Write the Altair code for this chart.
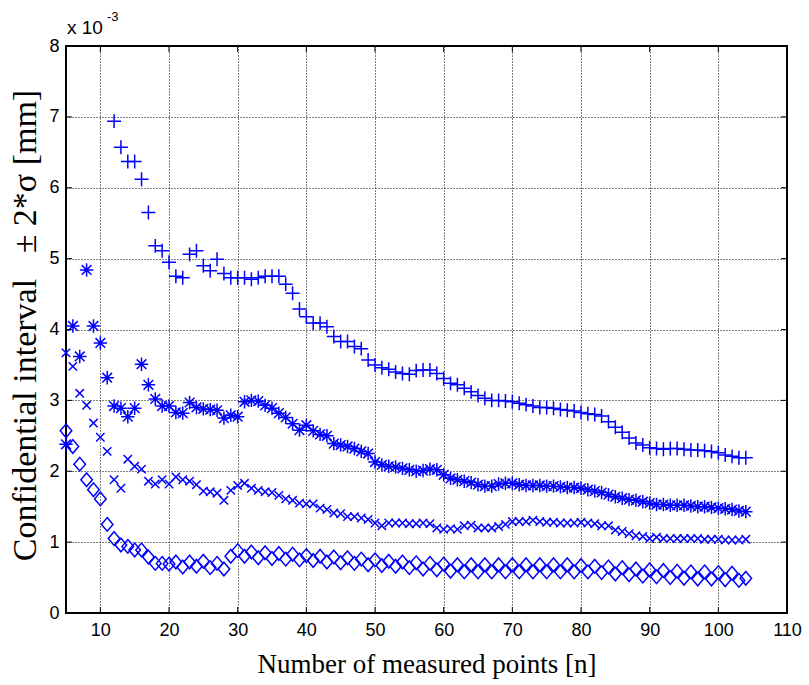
import altair as alt
import pandas as pd

# ---- data (values in units of 1e-3 mm) ----
n_plus = list(range(12, 105))
plus_vals = [6.94, 6.57, 6.37, 6.37, 6.12, 5.65, 5.18, 5.11, 4.95, 4.75,
             4.73, 5.06, 5.11, 4.90, 4.83, 4.99, 4.79, 4.73, 4.73, 4.73,
             4.71, 4.73, 4.75, 4.75, 4.75, 4.64, 4.51, 4.29, 4.18, 4.09,
             4.09, 4.04, 3.90, 3.83, 3.83, 3.76, 3.73, 3.57, 3.50, 3.46,
             3.44, 3.40, 3.38, 3.37, 3.42, 3.43, 3.43, 3.38, 3.31, 3.24,
             3.22, 3.17, 3.12, 3.07, 3.03, 3.00, 3.00, 2.99, 2.98, 2.96,
             2.94, 2.92, 2.90, 2.90, 2.89, 2.87, 2.86, 2.85, 2.83, 2.81,
             2.80, 2.78, 2.70, 2.62, 2.55, 2.47, 2.40, 2.37, 2.33, 2.32,
             2.31, 2.32, 2.32, 2.31, 2.30, 2.30, 2.29, 2.28, 2.26, 2.23,
             2.21, 2.19, 2.19]

n_all = list(range(5, 105))
star_vals = [2.38, 4.05, 3.62, 4.84, 4.05, 3.81, 3.32, 2.92, 2.89, 2.77,
             2.89, 3.51, 3.22, 3.02, 2.92, 2.92, 2.83, 2.82, 2.97, 2.90,
             2.88, 2.87, 2.86, 2.75, 2.79, 2.77, 2.98, 3.00, 2.99, 2.93,
             2.89, 2.82, 2.76, 2.67, 2.58, 2.65, 2.57, 2.52, 2.50, 2.39,
             2.37, 2.35, 2.32, 2.28, 2.25, 2.13, 2.09, 2.07, 2.06, 2.04,
             2.02, 2.00, 2.01, 2.03, 2.02, 1.95, 1.90, 1.88, 1.86, 1.84,
             1.81, 1.79, 1.79, 1.82, 1.83, 1.83, 1.81, 1.80, 1.80, 1.80,
             1.79, 1.79, 1.78, 1.77, 1.77, 1.76, 1.74, 1.72, 1.70, 1.67,
             1.64, 1.62, 1.60, 1.59, 1.57, 1.55, 1.53, 1.53, 1.52, 1.52,
             1.52, 1.51, 1.50, 1.50, 1.49, 1.48, 1.47, 1.46, 1.44, 1.43]

cross_vals = [3.67, 3.48, 3.10, 2.93, 2.68, 2.48, 2.28, 1.88, 1.76, 2.17,
              2.07, 2.03, 1.86, 1.82, 1.88, 1.82, 1.92, 1.88, 1.86, 1.81,
              1.72, 1.71, 1.69, 1.59, 1.73, 1.80, 1.83, 1.76, 1.73, 1.71,
              1.70, 1.66, 1.61, 1.59, 1.55, 1.54, 1.54, 1.48, 1.46, 1.41,
              1.40, 1.36, 1.36, 1.34, 1.32, 1.27, 1.23, 1.27, 1.27, 1.27,
              1.26, 1.26, 1.27, 1.26, 1.20, 1.18, 1.19, 1.18, 1.23, 1.24,
              1.20, 1.20, 1.20, 1.22, 1.25, 1.29, 1.29, 1.29, 1.31, 1.29,
              1.28, 1.28, 1.27, 1.27, 1.27, 1.28, 1.27, 1.26, 1.23, 1.23,
              1.17, 1.15, 1.12, 1.09, 1.08, 1.05, 1.07, 1.05, 1.05, 1.05,
              1.05, 1.05, 1.05, 1.04, 1.04, 1.04, 1.03, 1.03, 1.03, 1.04]

diamond_vals = [2.57, 2.35, 2.10, 1.88, 1.74, 1.61, 1.25, 1.05, 0.96, 0.94,
                0.89, 0.89, 0.79, 0.70, 0.70, 0.69, 0.72, 0.65, 0.72, 0.66,
                0.73, 0.64, 0.70, 0.62, 0.80, 0.88, 0.80, 0.86, 0.78, 0.85,
                0.77, 0.84, 0.76, 0.83, 0.75, 0.81, 0.74, 0.80, 0.72, 0.79,
                0.71, 0.78, 0.70, 0.76, 0.68, 0.75, 0.67, 0.73, 0.66, 0.72,
                0.64, 0.71, 0.62, 0.70, 0.61, 0.69, 0.59, 0.68, 0.58, 0.68,
                0.58, 0.68, 0.58, 0.68, 0.58, 0.68, 0.58, 0.68, 0.58, 0.68,
                0.58, 0.68, 0.58, 0.68, 0.58, 0.67, 0.58, 0.66, 0.57, 0.65,
                0.55, 0.64, 0.54, 0.62, 0.52, 0.61, 0.51, 0.60, 0.50, 0.59,
                0.49, 0.58, 0.48, 0.58, 0.48, 0.57, 0.47, 0.56, 0.46, 0.49]

x_ticks = [10, 20, 30, 40, 50, 60, 70, 80, 90, 100, 110]
y_ticks = [0, 1, 2, 3, 4, 5, 6, 7, 8]

# ---- chart ----
W, H = 721, 567
BLUE = "#0000ff"
PLUS = "M-1,0L1,0M0,-1L0,1"
STAR = "M-1,0L1,0M0,-1L0,1M-0.72,-0.72L0.72,0.72M-0.72,0.72L0.72,-0.72"
CROSS = "M-1,-1L1,1M-1,1L1,-1"
DIAMOND = "M0,-1L0.85,0L0,1L-0.85,0Z"

xs = alt.Scale(domain=[5, 110], nice=False, zero=False)
ys = alt.Scale(domain=[0, 8], nice=False, zero=False)

x_axis = alt.Axis(values=x_ticks, grid=True, gridDash=[1, 2], gridColor="black",
                  gridOpacity=1, gridWidth=1, ticks=False, domain=False,
                  labelFont="Liberation Sans", labelFontSize=18, labelColor="black",
                  labelPadding=8, labelOverlap=False, labelFlush=False, format="d",
                  title="Number of measured points [n]", titleFont="Liberation Serif",
                  titleFontSize=27, titleFontWeight="normal", titleColor="black",
                  titlePadding=12)
y_axis = alt.Axis(values=y_ticks, grid=True, gridDash=[1, 2], gridColor="black",
                  gridOpacity=1, gridWidth=1, ticks=False, domain=False,
                  labelFont="Liberation Sans", labelFontSize=18, labelColor="black",
                  labelPadding=7, labelOverlap=False, labelFlush=False, format="d",
                  title="Confidential interval\u00a0\u00a0\u00a0\u00b1 2*\u03c3 [mm]",
                  titleFont="Liberation Serif", titleFontSize=34,
                  titleFontWeight="normal", titleColor="black",
                  titleAngle=-90, titleX=-31, titleY=279, titleAlign="center",
                  titleBaseline="alphabetic")

df_plus = pd.DataFrame({"n": n_plus, "v": plus_vals})
df_all = pd.DataFrame({"n": n_all, "star": star_vals, "cross": cross_vals,
                       "diamond": diamond_vals})


def pts(df, field, shape, size):
    return alt.Chart(df).mark_point(shape=shape, filled=False, color=BLUE,
                                    strokeWidth=1.5, size=size, opacity=1).encode(
        x=alt.X("n:Q", scale=xs, axis=x_axis),
        y=alt.Y(f"{field}:Q", scale=ys, axis=y_axis),
    )


l_diamond = pts(df_all, "diamond", DIAMOND, 185)
l_star = pts(df_all, "star", STAR, 180)
l_cross = pts(df_all, "cross", CROSS, 70)
l_plus = pts(df_plus, "v", PLUS, 195)

df_xt = pd.DataFrame({"n": x_ticks})
df_yt = pd.DataFrame({"v": y_ticks})
TL = 6
tick_style = dict(color="black", strokeWidth=1)
xt_bottom = alt.Chart(df_xt).mark_rule(**tick_style).encode(
    x=alt.X("n:Q", scale=xs, axis=x_axis), y=alt.value(H), y2=alt.value(H - TL))
xt_top = alt.Chart(df_xt).mark_rule(**tick_style).encode(
    x=alt.X("n:Q", scale=xs, axis=x_axis), y=alt.value(0), y2=alt.value(TL))
yt_left = alt.Chart(df_yt).mark_rule(**tick_style).encode(
    y=alt.Y("v:Q", scale=ys, axis=y_axis), x=alt.value(0), x2=alt.value(TL))
yt_right = alt.Chart(df_yt).mark_rule(**tick_style).encode(
    y=alt.Y("v:Q", scale=ys, axis=y_axis), x=alt.value(W), x2=alt.value(W - TL))

exp_df = pd.DataFrame({"a": [0]})
exp_main = alt.Chart(exp_df).mark_text(text="x 10", align="left", baseline="alphabetic",
                                       font="Liberation Sans", fontSize=19,
                                       color="black").encode(
    x=alt.value(1), y=alt.value(-12))
exp_sup = alt.Chart(exp_df).mark_text(text="-3", align="left", baseline="alphabetic",
                                      font="Liberation Sans", fontSize=13,
                                      color="black").encode(
    x=alt.value(41), y=alt.value(-25))

chart = alt.layer(l_diamond, l_star, l_cross, l_plus, xt_bottom, xt_top, yt_left,
                  yt_right, exp_main, exp_sup).properties(
    width=W, height=H,
    autosize=alt.AutoSizeParams(type="none"),
    padding={"left": 66, "top": 46, "right": 22, "bottom": 72},
    background="white",
).configure_view(stroke="black", strokeWidth=2)

chart.save("out.html", embed_options={"renderer": "svg", "actions": False})
